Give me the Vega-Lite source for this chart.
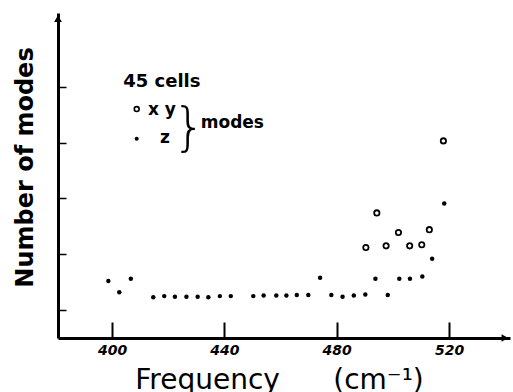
{
  "$schema": "https://vega.github.io/schema/vega-lite/v6.json",
  "width": 452,
  "height": 325,
  "autosize": {"type": "none"},
  "padding": {"left": 58, "top": 13, "right": 3, "bottom": 54},
  "background": "white",
  "config": {"view": {"stroke": null}},
  "datasets": {
    "pts": [
      {"freq": 398.7, "n": 1.52, "series": "z"},
      {"freq": 402.6, "n": 1.32, "series": "z"},
      {"freq": 406.7, "n": 1.56, "series": "z"},
      {"freq": 414.7, "n": 1.23, "series": "z"},
      {"freq": 418.6, "n": 1.25, "series": "z"},
      {"freq": 422.4, "n": 1.24, "series": "z"},
      {"freq": 426.5, "n": 1.24, "series": "z"},
      {"freq": 430.5, "n": 1.24, "series": "z"},
      {"freq": 434.3, "n": 1.23, "series": "z"},
      {"freq": 438.4, "n": 1.25, "series": "z"},
      {"freq": 442.3, "n": 1.25, "series": "z"},
      {"freq": 450.3, "n": 1.25, "series": "z"},
      {"freq": 454.0, "n": 1.26, "series": "z"},
      {"freq": 458.5, "n": 1.26, "series": "z"},
      {"freq": 462.1, "n": 1.26, "series": "z"},
      {"freq": 465.8, "n": 1.27, "series": "z"},
      {"freq": 469.9, "n": 1.27, "series": "z"},
      {"freq": 474.1, "n": 1.58, "series": "z"},
      {"freq": 478.1, "n": 1.27, "series": "z"},
      {"freq": 482.1, "n": 1.24, "series": "z"},
      {"freq": 486.1, "n": 1.26, "series": "z"},
      {"freq": 490.2, "n": 1.28, "series": "z"},
      {"freq": 493.8, "n": 1.56, "series": "z"},
      {"freq": 498.2, "n": 1.27, "series": "z"},
      {"freq": 502.3, "n": 1.56, "series": "z"},
      {"freq": 506.1, "n": 1.56, "series": "z"},
      {"freq": 510.5, "n": 1.60, "series": "z"},
      {"freq": 514.0, "n": 1.92, "series": "z"},
      {"freq": 518.3, "n": 2.91, "series": "z"},
      {"freq": 490.4, "n": 2.12, "series": "xy"},
      {"freq": 494.3, "n": 2.74, "series": "xy"},
      {"freq": 497.6, "n": 2.15, "series": "xy"},
      {"freq": 502.0, "n": 2.39, "series": "xy"},
      {"freq": 506.0, "n": 2.15, "series": "xy"},
      {"freq": 510.3, "n": 2.17, "series": "xy"},
      {"freq": 513.0, "n": 2.44, "series": "xy"},
      {"freq": 518.0, "n": 4.03, "series": "xy"}
    ],
    "minorTicks": [
      {"freq": 420},
      {"freq": 460},
      {"freq": 500}
    ],
    "legendSymbols": [
      {"freq": 408.8, "n": 4.6, "series": "xy"},
      {"freq": 408.8, "n": 4.07, "series": "z"}
    ],
    "notes": [
      {"freq": 404.0, "n": 5.0, "text": "45 cells", "size": 18},
      {"freq": 412.8, "n": 4.49, "text": "x y", "size": 17},
      {"freq": 417.1, "n": 3.99, "text": "z", "size": 17},
      {"freq": 431.6, "n": 4.255, "text": "modes", "size": 17}
    ],
    "brace": [
      {"freq": 427.4, "n": 4.26, "text": "}"}
    ],
    "arrows": [
      {"freq": 380.77, "n": 6.22, "shape": "triangle-up"},
      {"freq": 539.9, "n": 0.5, "shape": "triangle-right"}
    ]
  },
  "encoding": {
    "x": {
      "field": "freq",
      "type": "quantitative",
      "scale": {"domain": [380.77, 541.72], "nice": false, "zero": false},
      "axis": {
        "title": "Frequency\u00a0\u00a0\u00a0\u00a0\u00a0\u00a0(cm⁻¹)",
        "values": [400, 440, 480, 520],
        "grid": false,
        "domainColor": "black",
        "domainWidth": 3,
        "ticks": true,
        "tickColor": "black",
        "tickWidth": 2,
        "tickSize": -16,
        "labelFont": "DejaVu Sans",
        "labelFontSize": 14,
        "labelFontWeight": "bold",
        "labelFontStyle": "italic",
        "labelColor": "black",
        "labelPadding": 21,
        "labelBaseline": "top",
        "titleFont": "DejaVu Sans",
        "titleFontSize": 28,
        "titleFontWeight": "normal",
        "titleColor": "black",
        "titleBaseline": "alphabetic",
        "titleX": 221,
        "titleY": 50,
        "titleAnchor": "middle"
      }
    },
    "y": {
      "field": "n",
      "type": "quantitative",
      "scale": {"domain": [0.5, 6.32], "nice": false, "zero": false},
      "axis": {
        "title": "Number of modes",
        "values": [1, 2, 3, 4, 5],
        "labels": false,
        "grid": false,
        "domainColor": "black",
        "domainWidth": 3,
        "tickColor": "black",
        "tickWidth": 1.5,
        "tickSize": -8,
        "titleFont": "DejaVu Sans",
        "titleFontSize": 24,
        "titleFontWeight": "bold",
        "titleColor": "black",
        "titleAngle": -90,
        "titleAlign": "center",
        "titleBaseline": "middle",
        "titleX": -33,
        "titleY": 154
      }
    }
  },
  "layer": [
    {
      "data": {"name": "minorTicks"},
      "mark": {"type": "rule", "stroke": "black", "strokeWidth": 2},
      "encoding": {"x": {"field": "freq", "type": "quantitative"}, "y": {"datum": 0.5}, "y2": {"datum": 0.66}}
    },
    {
      "data": {"name": "pts"},
      "transform": [{"filter": "datum.series == 'z'"}],
      "mark": {"type": "point", "shape": "circle", "filled": true, "color": "black", "size": 20, "opacity": 1}
    },
    {
      "data": {"name": "pts"},
      "transform": [{"filter": "datum.series == 'xy'"}],
      "mark": {"type": "point", "shape": "circle", "filled": false, "stroke": "black", "strokeWidth": 1.8, "size": 28, "opacity": 1}
    },
    {
      "data": {"name": "legendSymbols"},
      "transform": [{"filter": "datum.series == 'z'"}],
      "mark": {"type": "point", "shape": "circle", "filled": true, "color": "black", "size": 16, "opacity": 1}
    },
    {
      "data": {"name": "legendSymbols"},
      "transform": [{"filter": "datum.series == 'xy'"}],
      "mark": {"type": "point", "shape": "circle", "filled": false, "stroke": "black", "strokeWidth": 1.6, "size": 24, "opacity": 1}
    },
    {
      "data": {"name": "notes"},
      "mark": {"type": "text", "align": "left", "baseline": "alphabetic", "font": "DejaVu Sans", "fontWeight": "bold", "color": "black"},
      "encoding": {"text": {"field": "text"}, "size": {"field": "size", "type": "quantitative", "scale": null}}
    },
    {
      "data": {"name": "brace"},
      "mark": {"type": "text", "align": "center", "baseline": "middle", "font": "DejaVu Sans", "fontSize": 52, "fontWeight": 200, "color": "black"},
      "encoding": {"text": {"field": "text"}}
    },
    {
      "data": {"name": "arrows"},
      "mark": {"type": "point", "filled": true, "color": "black", "size": 60, "opacity": 1},
      "encoding": {"shape": {"field": "shape", "type": "nominal", "scale": null}}
    }
  ]
}
